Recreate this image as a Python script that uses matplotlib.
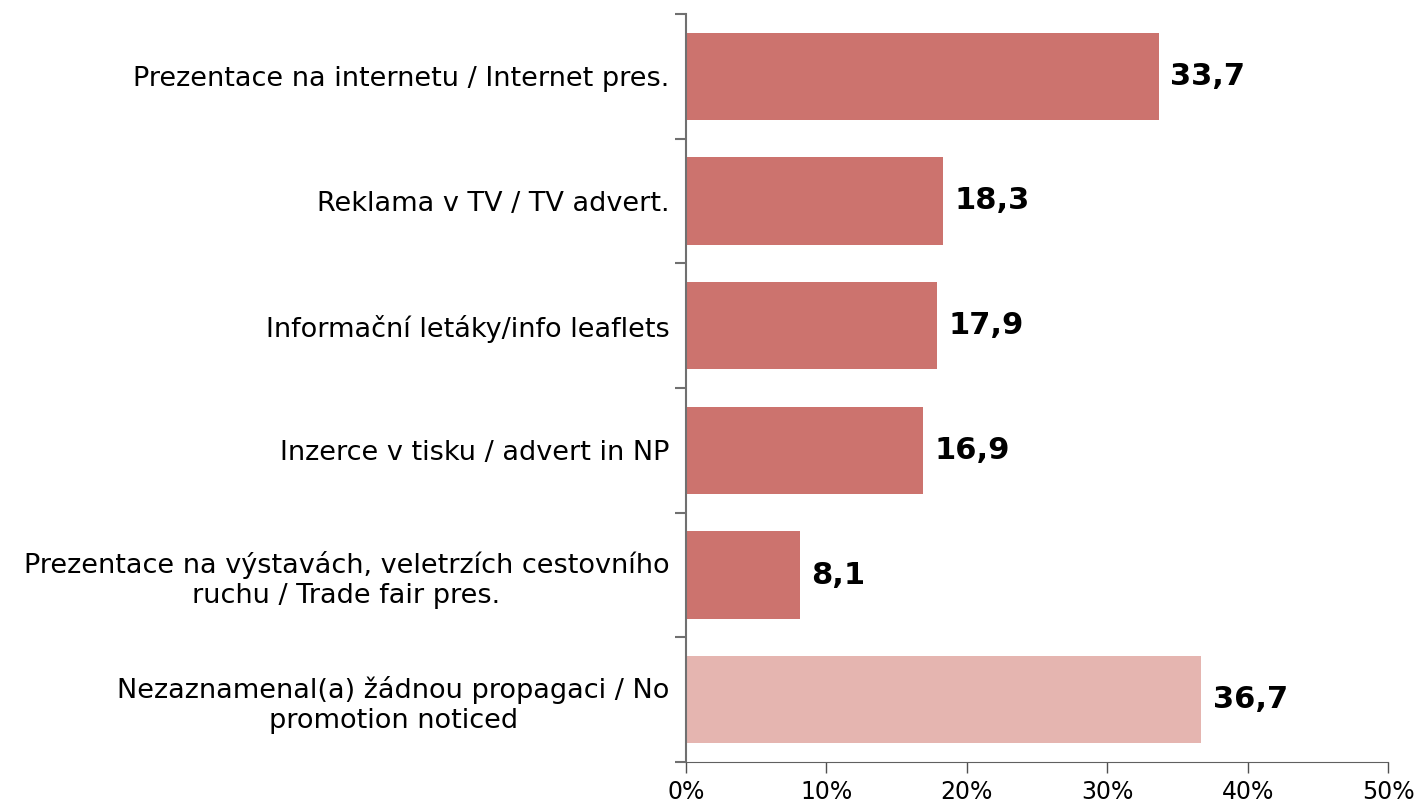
import matplotlib.pyplot as plt
import numpy as np

plt.rcParams['font.family'] = ['DejaVu Sans']

categories = [
    'Prezentace na internetu / Internet pres.',
    'Reklama v TV / TV advert.',
    'Informační letáky/info leaflets',
    'Inzerce v tisku / advert in NP',
    'Prezentace na výstavách, veletrzích cestovního\nruchu / Trade fair pres.',
    'Nezaznamenal(a) žádnou propagaci / No\npromotion noticed',
]
values = [33.7, 18.3, 17.9, 16.9, 8.1, 36.7]
colors = ['#CC736E'] * 5 + ['#E5B5B0']

fig = plt.figure(figsize=(14.19, 8.08), dpi=100)
ax = fig.add_axes([0.4834, 0.0569, 0.4948, 0.9258])

y = np.arange(len(values))
ax.barh(y, values, height=0.7, color=colors)
ax.set_ylim(len(values) - 0.5, -0.5)
ax.set_xlim(0, 50)

for yi, v in zip(y, values):
    ax.text(v + 0.8, yi, f'{v:.1f}'.replace('.', ','), va='center', ha='left',
            fontsize=22, fontweight='bold')

ax.set_yticks(y)
ax.set_yticklabels(categories, fontsize=19.5, multialignment='center')
ax.tick_params(axis='y', which='major', length=0, pad=12)
ax.set_yticks(np.arange(-0.5, len(values)), minor=True)
ax.tick_params(axis='y', which='minor', length=8, width=1.5, color='#707070')

ax.set_xticks(np.arange(0, 51, 10))
ax.set_xticklabels([f'{t}%' for t in range(0, 51, 10)], fontsize=17)
ax.tick_params(axis='x', length=8, width=1, color='#505050', pad=5)

for s in ['top', 'right']:
    ax.spines[s].set_visible(False)
ax.spines['left'].set_color('#707070')
ax.spines['left'].set_linewidth(1.5)
ax.spines['bottom'].set_color('#606060')

fig.savefig('out.png', dpi=100)
